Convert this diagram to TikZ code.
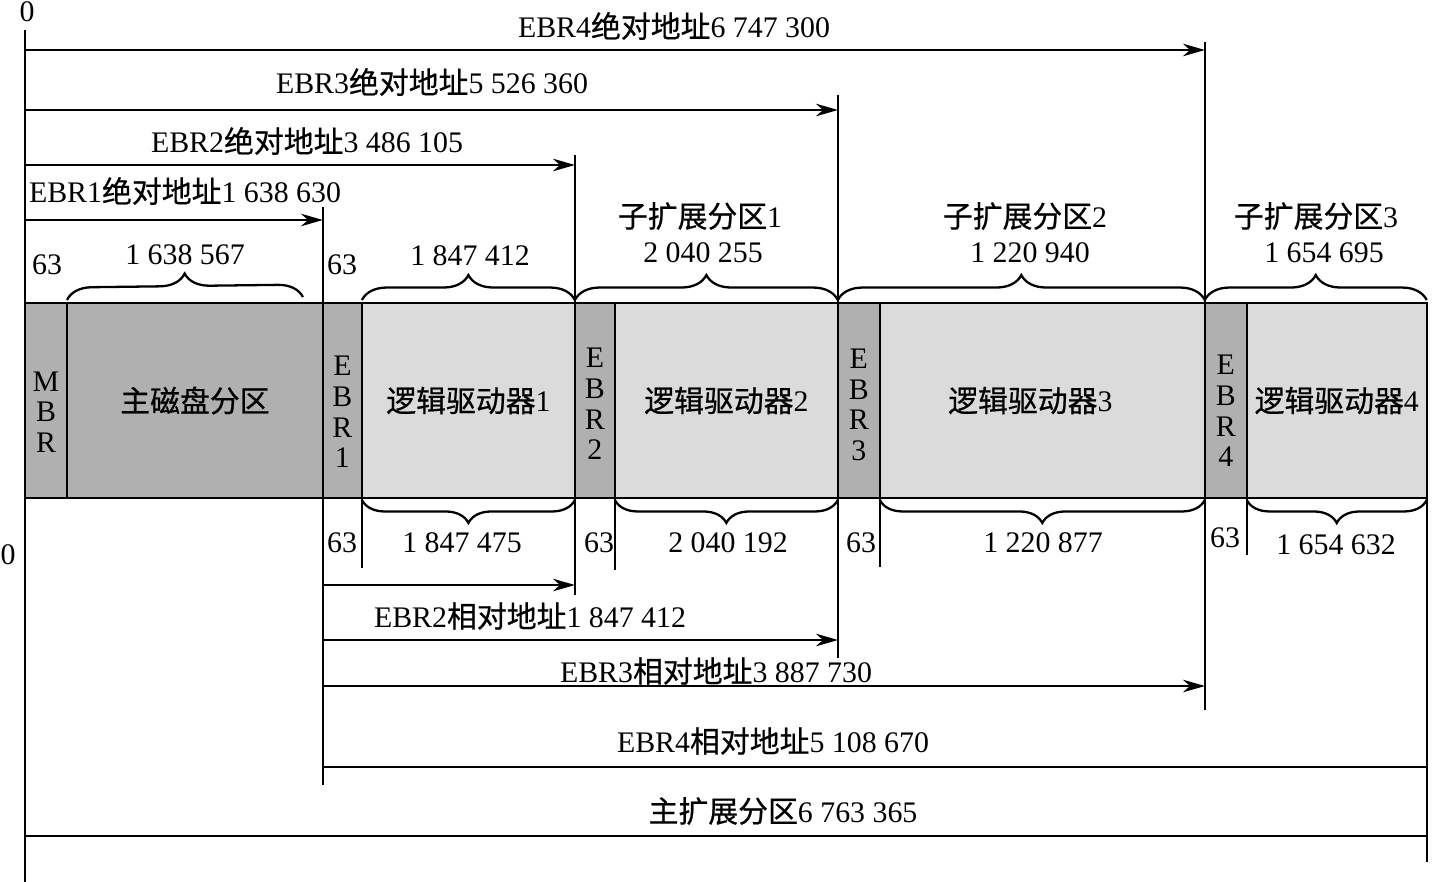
\documentclass[tikz,border=0pt]{standalone}
\usepackage{fontspec}
\setmainfont{Liberation Serif}
\newfontfamily\cjk[FakeBold=0.6]{Noto Sans CJK SC}
\usepackage{tikz}
\usetikzlibrary{arrows.meta,positioning,decorations.pathreplacing}

\definecolor{ebrgray}{gray}{0.69}
\definecolor{drivegray}{gray}{0.86}

\begin{document}
\begin{tikzpicture}[x=0.02cm,y=-0.02cm,>={Stealth[length=4.4mm,width=2.5mm,inset=1.4mm]},
    line width=1.3pt,font=\fontsize{17pt}{17.4pt}\selectfont,
    blk/.style={draw,rectangle,minimum height=3.9cm,inner sep=0pt,outer sep=0pt,anchor=west},
    dark blk/.style={blk,fill=ebrgray},
    light blk/.style={blk,fill=drivegray},
    vtxt/.style={align=center,inner sep=0pt},
    lbl/.style={inner sep=0pt},
    brace up/.style={decorate,decoration={brace,amplitude=0.5cm}},
    brace down/.style={decorate,decoration={brace,mirror,amplitude=0.46cm}}]

  \useasboundingbox (0,0) rectangle (1434,882);

  % the disk
  \node[dark blk,minimum width=0.84cm] (mbr) at (25,400.5) {};
  \node[dark blk,minimum width=5.12cm,right=0pt of mbr] (prim) {\cjk 主磁盘分区};
  \node[dark blk,minimum width=0.78cm,right=0pt of prim] (ebr1) {};
  \node[light blk,minimum width=4.26cm,right=0pt of ebr1] (ld1) {{\cjk 逻辑驱动器}1};
  \node[dark blk,minimum width=0.8cm,right=0pt of ld1] (ebr2) {};
  \node[light blk,minimum width=4.46cm,right=0pt of ebr2] (ld2) {{\cjk 逻辑驱动器}2};
  \node[dark blk,minimum width=0.84cm,right=0pt of ld2] (ebr3) {};
  \node[light blk,minimum width=6.5cm,right=0pt of ebr3] (ld3) {};
  \node[dark blk,minimum width=0.84cm,right=0pt of ld3] (ebr4) {};
  \node[light blk,minimum width=3.6cm,right=0pt of ebr4] (ld4) {{\cjk 逻辑驱动器}4};

  \node[lbl] (ld3-t) at ([xshift=-0.24cm]ld3.center) {{\cjk 逻辑驱动器}3};
  \node[vtxt] (mbr-t) at ([yshift=-0.23cm]mbr.center) {M\\B\\R};
  \node[vtxt] (ebr1-t) at ([yshift=-0.23cm]ebr1.center) {E\\B\\R\\1};
  \node[vtxt] (ebr2-t) at ([yshift=-0.07cm]ebr2.center) {E\\B\\R\\2};
  \node[vtxt] (ebr3-t) at ([yshift=-0.09cm]ebr3.center) {E\\B\\R\\3};
  \node[vtxt] (ebr4-t) at ([yshift=-0.21cm]ebr4.center) {E\\B\\R\\4};

  % guide lines
  \coordinate (top0) at (25,30);    \coordinate (bot0) at (25,882);
  \coordinate (top1) at (323,207);  \coordinate (bot1) at (323,785);
  \coordinate (top2) at (575,155);  \coordinate (bot2) at (575,595);
  \coordinate (top3) at (838,95);   \coordinate (bot3) at (838,658);
  \coordinate (top4) at (1205,42);  \coordinate (bot4) at (1205,710);
  \coordinate (top5) at (1427,303); \coordinate (bot5) at (1427,862);
  \foreach \n in {0,...,5}
    \draw (top\n) -- (bot\n);
  \draw (ld1.south west) -- ++(0,70);
  \draw (ld2.south west) -- ++(0,72);
  \draw (ld3.south west) -- ++(0,69);
  \draw (ld4.south west) -- ++(0,57);

  % absolute addresses
  \foreach \n/\y in {1/220,2/165,3/110,4/50}
    \draw[->] (top0 |- 0,\y) -- (top\n |- 0,\y);
  \node[lbl] (abs4) at (674,26) {EBR4{\cjk 绝对地址}6 747 300};
  \node[lbl] (abs3) at (432,82) {EBR3{\cjk 绝对地址}5 526 360};
  \node[lbl] (abs2) at (307,141) {EBR2{\cjk 绝对地址}3 486 105};
  \node[lbl] (abs1) at (185,191) {EBR1{\cjk 绝对地址}1 638 630};

  % relative addresses
  \foreach \n/\y in {2/585,3/640,4/686}
    \draw[->] (top1 |- 0,\y) -- (top\n |- 0,\y);
  \draw (top1 |- 0,767) -- (top5 |- 0,767);
  \draw (top0 |- 0,836) -- (top5 |- 0,836);
  \node[lbl] (rel2) at (530,616) {EBR2{\cjk 相对地址}1 847 412};
  \node[lbl] (rel3) at (716,671) {EBR3{\cjk 相对地址}3 887 730};
  \node[lbl] (rel4) at (773,741) {EBR4{\cjk 相对地址}5 108 670};
  \node[lbl] (ext) at (783,811) {{\cjk 主扩展分区}6 763 365};

  \node[lbl] (zero1) at (27,12) {0};
  \node[lbl] (zero2) at (8,555) {0};

  % braces above
  \draw[brace up] ([yshift=0.06cm]prim.north west) -- ([xshift=-0.4cm,yshift=0.12cm]prim.north east);
  \draw[brace up] ([yshift=0.06cm]ld1.north west) -- ([yshift=0.06cm]ld1.north east);
  \draw[brace up] ([yshift=0.06cm]ebr2.north west) -- ([yshift=0.06cm]ld2.north east);
  \draw[brace up] ([yshift=0.06cm]ebr3.north west) -- ([yshift=0.06cm]ld3.north east);
  \draw[brace up] ([yshift=0.06cm]ebr4.north west) -- ([yshift=0.06cm]ld4.north east);
  \node[lbl] (s63a) at (47,265) {63};
  \node[lbl] (sprim) at (185,255) {1 638 567};
  \node[lbl] (s63b) at (342,265) {63};
  \node[lbl] (sld1) at (470,256) {1 847 412};
  \node[lbl] (sub1) at (700,216) {{\cjk 子扩展分区}1};
  \node[lbl] (sub1n) at (703,253) {2 040 255};
  \node[lbl] (sub2) at (1025,216) {{\cjk 子扩展分区}2};
  \node[lbl] (sub2n) at (1030,253) {1 220 940};
  \node[lbl] (sub3) at (1316,216) {{\cjk 子扩展分区}3};
  \node[lbl] (sub3n) at (1324,253) {1 654 695};

  % braces below
  \draw[brace down] ([yshift=-0.04cm]ld1.south west) -- ([yshift=-0.04cm]ld1.south east);
  \draw[brace down] ([yshift=-0.04cm]ld2.south west) -- ([yshift=-0.04cm]ld2.south east);
  \draw[brace down] ([yshift=-0.04cm]ld3.south west) -- ([yshift=-0.04cm]ld3.south east);
  \draw[brace down] ([yshift=-0.04cm]ld4.south west) -- ([yshift=-0.04cm]ld4.south east);
  \node[lbl] (b63a) at (342,543) {63};
  \node[lbl] (bld1) at (462,543) {1 847 475};
  \node[lbl] (b63b) at (599,543) {63};
  \node[lbl] (bld2) at (728,543) {2 040 192};
  \node[lbl] (b63c) at (861,543) {63};
  \node[lbl] (bld3) at (1043,543) {1 220 877};
  \node[lbl] (b63d) at (1225,538) {63};
  \node[lbl] (bld4) at (1336,545) {1 654 632};
\end{tikzpicture}
\end{document}
